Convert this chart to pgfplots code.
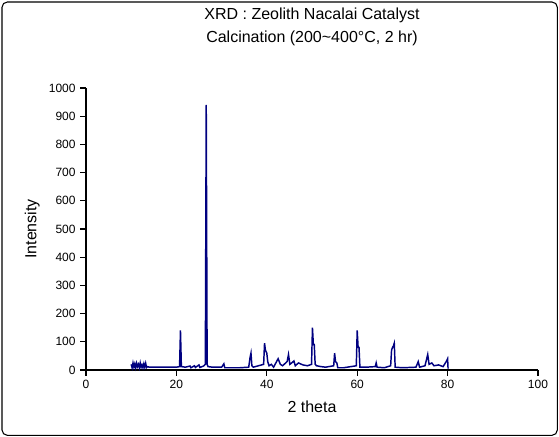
\documentclass[border=0pt]{standalone}
\usepackage{pgfplots}
\pgfplotsset{compat=1.18}
\usepackage{fontspec}
\setmainfont{Liberation Sans}
\definecolor{navy}{RGB}{0,0,128}
\begin{document}
\begin{tikzpicture}
\begin{axis}[
  scale only axis, width=339pt, height=211.5pt,
  axis lines*=left, axis line style={black, line width=0.8pt},
  xmin=0, xmax=100, ymin=0, ymax=1000,
  xtick={0,20,...,100}, ytick={0,100,...,1000},
  tick align=outside, tick style={black, line width=0.8pt},
  tick label style={font=\small},
  /pgf/number format/assume math mode=true,
  /pgf/number format/1000 sep={},
  xlabel={2 theta}, ylabel={Intensity},
  xlabel style={font=\large, yshift=-2pt}, ylabel style={font=\large, yshift=0pt},
  title={XRD : Zeolith Nacalai Catalyst\\[3pt]Calcination (200\textasciitilde400\textdegree C, 2 hr)},
  title style={align=center, font=\large, yshift=22pt},
  clip=false,
]
\addplot[navy, line width=1.1pt] coordinates {
(10,20)(10.2,8)(10.4,25)(10.6,10)(10.8,22)(11,8)(11.2,24)(11.4,12)(11.6,20)(11.8,8)(12,25)(12.2,10)(12.4,18)(12.6,8)(12.8,22)(13,10)(13.2,24)(13.4,9)(13.6,12)(14,10)(16,10)(18,10)(20,10)(20.7,12)(20.9,140)(21.1,12)(22,10)(23,14)(23.2,8)(24,15)(24.2,9)(25,18)(25.2,9)(26,14)(26.4,20)(26.6,940)(26.8,20)(27,12)(28,10)(30,10)(30.5,22)(30.7,8)(32,8)(34,8)(36,10)(36.3,45)(36.5,60)(36.7,15)(37,10)(39.3,20)(39.5,95)(39.7,70)(40,60)(40.2,30)(40.5,15)(41,20)(41.5,10)(42,25)(42.5,40)(43,20)(43.5,15)(44.5,30)(44.8,55)(45.1,20)(45.5,25)(46,32)(46.3,15)(47,25)(48,18)(49,15)(49.9,20)(50.1,150)(50.3,90)(50.5,90)(50.7,20)(51,15)(52,12)(53,10)(54.8,15)(55,60)(55.2,30)(55.5,25)(55.7,8)(57,8)(59.8,15)(60,140)(60.2,80)(60.4,80)(60.6,10)(62,10)(64,12)(64.2,25)(64.4,10)(66,8)(67.4,15)(67.6,70)(67.8,80)(68,85)(68.2,95)(68.4,10)(70,8)(73,10)(73.5,30)(73.8,10)(75,15)(75.6,55)(75.9,20)(76.5,25)(77,15)(78,18)(79,12)(79.7,30)(80,40)(80.1,5)
};
\coordinate (sw) at (rel axis cs:0,0);
\coordinate (ne) at (rel axis cs:1,1);
\end{axis}
\draw[black, line width=0.8pt, rounded corners=4pt] ([xshift=-63pt,yshift=-49pt]sw) rectangle ([xshift=14.5pt,yshift=64.5pt]ne);
\useasboundingbox ([xshift=-64.5pt,yshift=-50.25pt]sw) rectangle ([xshift=15.75pt,yshift=66pt]ne);
\end{tikzpicture}
\end{document}
